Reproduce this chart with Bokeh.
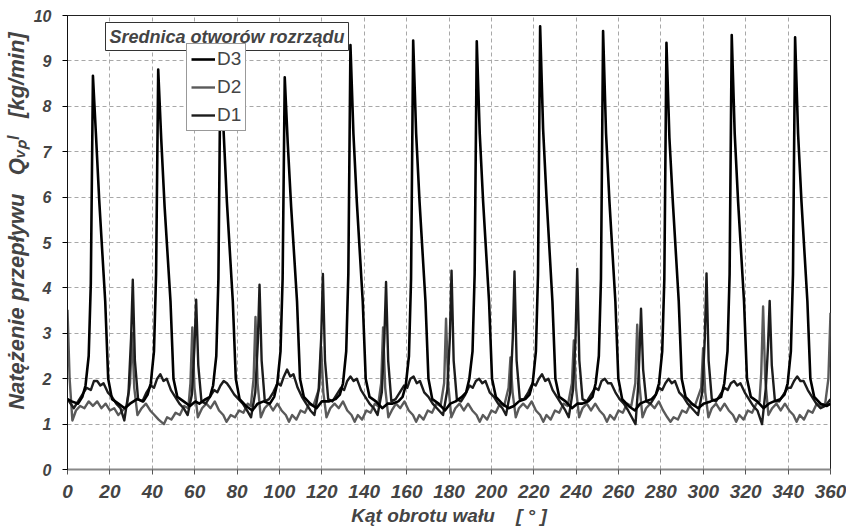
from bokeh.plotting import figure
from bokeh.models import Range1d, FixedTicker, Legend, LegendItem, Label
from bokeh.embed import file_html
from bokeh.resources import INLINE

# ---- data (angle in degrees, flow in kg/min) ----
d3_x = [0.0, 2.0, 5.0, 7.0, 8.5, 10.0, 11.0, 12.0, 13.4, 15.0, 17.8, 19.2, 21.0, 24.0, 27.0, 29.5,
        32.8, 35.8, 37.8, 39.3, 40.8, 41.8, 42.8, 44.2, 45.8, 48.6, 50.0, 51.8, 54.8, 57.8, 60.3,
        62.2, 65.2, 67.2, 68.7, 70.2, 71.2, 72.2, 73.6, 75.2, 78.0, 79.4, 81.2, 84.2, 87.2, 89.7,
        92.5, 95.5, 97.5, 99.0, 100.5, 101.5, 102.5, 103.9, 105.5, 108.3, 109.7, 111.5, 114.5, 117.5, 120.0,
        123.5, 126.5, 128.5, 130.0, 131.5, 132.5, 133.5, 134.9, 136.5, 139.3, 140.7, 142.5, 145.5, 148.5, 151.0,
        153.1, 156.1, 158.1, 159.6, 161.1, 162.1, 163.1, 164.5, 166.1, 168.9, 170.3, 172.1, 175.1, 178.1, 180.6,
        183.1, 186.1, 188.1, 189.6, 191.1, 192.1, 193.1, 194.5, 196.1, 198.9, 200.3, 202.1, 205.1, 208.1, 210.6,
        213.0, 216.0, 218.0, 219.5, 221.0, 222.0, 223.0, 224.4, 226.0, 228.8, 230.2, 232.0, 235.0, 238.0, 240.5,
        242.7, 245.7, 247.7, 249.2, 250.7, 251.7, 252.7, 254.1, 255.7, 258.5, 259.9, 261.7, 264.7, 267.7, 270.2,
        272.6, 275.6, 277.6, 279.1, 280.6, 281.6, 282.6, 284.0, 285.6, 288.4, 289.8, 291.6, 294.6, 297.6, 300.1,
        303.4, 306.4, 308.4, 309.9, 311.4, 312.4, 313.4, 314.8, 316.4, 319.2, 320.6, 322.4, 325.4, 328.4, 330.9,
        333.3, 336.3, 338.3, 339.8, 341.3, 342.3, 343.3, 344.7, 346.3, 349.1, 350.5, 352.3, 355.3, 358.3, 360.0]
d3_y = [1.55, 1.50, 1.45, 1.60, 1.85, 2.5, 4.1, 8.67, 7.4, 5.9, 3.7, 2.0, 1.55, 1.45, 1.35, 1.45,
        1.55, 1.50, 1.65, 1.90, 2.6, 4.3, 8.81, 7.3, 5.8, 3.7, 2.0, 1.60, 1.50, 1.40, 1.50,
        1.45, 1.55, 1.60, 1.85, 2.5, 4.2, 9.10, 7.5, 5.9, 3.7, 2.0, 1.55, 1.40, 1.30, 1.45,
        1.50, 1.45, 1.60, 1.90, 2.6, 4.2, 8.64, 7.2, 5.8, 3.7, 2.0, 1.60, 1.45, 1.35, 1.50,
        1.50, 1.55, 1.65, 1.90, 2.6, 4.3, 9.35, 7.4, 5.9, 3.7, 2.0, 1.60, 1.50, 1.35, 1.45,
        1.45, 1.50, 1.60, 1.85, 2.5, 4.2, 9.45, 7.4, 5.9, 3.7, 2.0, 1.55, 1.45, 1.30, 1.45,
        1.50, 1.60, 1.70, 2.00, 2.6, 4.3, 9.43, 7.4, 5.9, 3.7, 2.0, 1.60, 1.45, 1.35, 1.40,
        1.50, 1.55, 1.65, 1.90, 2.6, 4.3, 9.76, 7.5, 6.0, 3.7, 2.0, 1.60, 1.50, 1.35, 1.45,
        1.45, 1.50, 1.60, 1.90, 2.5, 4.2, 9.66, 7.4, 5.9, 3.7, 2.0, 1.55, 1.40, 1.30, 1.45,
        1.50, 1.55, 1.65, 1.90, 2.6, 4.2, 9.40, 7.3, 5.9, 3.7, 2.0, 1.60, 1.45, 1.35, 1.45,
        1.50, 1.55, 1.60, 1.90, 2.6, 4.3, 9.57, 7.4, 5.9, 3.7, 2.0, 1.60, 1.50, 1.35, 1.45,
        1.50, 1.55, 1.65, 1.90, 2.6, 4.3, 9.52, 7.4, 5.9, 3.7, 2.0, 1.60, 1.45, 1.40, 1.45]

d2_x = [0.0, 1.0, 2.3, 4.0, 6.0, 8.0, 10.0, 12.0, 14.0, 16.0, 18.0, 20.0, 22.0, 24.0, 26.0, 28.0, 29.5, 30.5,
        31.5, 33.0, 35.0, 37.0, 39.0, 41.0, 43.0, 45.5, 47.0, 49.0, 51.0, 53.0, 55.0, 57.0, 58.0, 58.9,
        59.9, 61.5, 63.5, 65.5, 67.5, 69.5, 71.5, 73.5, 75.0, 77.0, 79.0, 81.0, 83.0, 85.0, 86.5, 87.8, 88.7,
        89.7, 91.2, 93.0, 95.0, 97.0, 99.0, 101.0, 103.0, 104.5, 106.0, 108.0, 110.0, 112.0, 114.0, 116.0, 118.8, 119.7,
        120.7, 122.2, 124.0, 126.0, 128.0, 130.0, 132.0, 134.0, 135.5, 137.0, 139.0, 141.0, 143.0, 145.0, 146.5, 148.0, 148.9,
        149.9, 151.4, 153.0, 155.0, 157.0, 159.0, 161.0, 163.0, 164.5, 166.0, 168.0, 170.0, 172.0, 174.0, 176.0, 177.7, 178.6,
        179.6, 181.1, 183.0, 185.0, 187.0, 189.0, 191.0, 193.0, 194.5, 196.0, 198.0, 200.0, 202.0, 204.0, 206.0, 208.1, 209.0,
        210.0, 211.5, 213.0, 215.0, 217.0, 219.0, 221.0, 223.0, 224.5, 226.0, 228.0, 230.0, 232.0, 234.0, 236.0, 238.0, 238.9,
        239.9, 241.4, 243.0, 245.0, 247.0, 249.0, 251.0, 253.0, 254.5, 256.0, 258.0, 260.0, 262.0, 264.0, 266.0, 267.9, 268.8,
        269.8, 271.3, 273.0, 275.0, 277.0, 279.0, 281.0, 283.0, 284.5, 286.0, 288.0, 290.0, 292.0, 294.0, 296.0, 299.0, 299.9,
        300.9, 302.4, 304.0, 306.0, 308.0, 310.0, 312.0, 314.0, 315.5, 317.0, 319.0, 321.0, 323.0, 325.0, 326.5, 327.3, 328.2,
        329.2, 330.7, 332.5, 334.5, 336.5, 338.5, 340.5, 342.5, 344.0, 345.5, 347.5, 349.5, 351.5, 353.5, 355.5, 357.5, 359.0, 360.0]
d2_y = [3.52, 2.0, 1.08, 1.30, 1.40, 1.35, 1.50, 1.40, 1.50, 1.35, 1.45, 1.30, 1.35, 1.20, 1.30, 1.40, 1.9, 3.00,
        1.8, 1.20, 1.35, 1.45, 1.30, 1.20, 1.10, 1.00, 1.15, 1.10, 1.25, 1.20, 1.40, 1.35, 1.9, 3.13,
        1.8, 1.15, 1.35, 1.45, 1.35, 1.50, 1.30, 1.20, 1.05, 1.20, 1.15, 1.30, 1.25, 1.45, 1.40, 2.0, 3.36,
        1.9, 1.15, 1.35, 1.45, 1.30, 1.45, 1.30, 1.20, 1.05, 1.20, 1.10, 1.30, 1.25, 1.45, 1.40, 1.8, 2.70,
        1.7, 1.15, 1.35, 1.45, 1.35, 1.50, 1.30, 1.20, 1.05, 1.20, 1.10, 1.30, 1.25, 1.45, 1.40, 1.9, 3.13,
        1.8, 1.15, 1.30, 1.45, 1.35, 1.50, 1.30, 1.20, 1.05, 1.20, 1.10, 1.30, 1.25, 1.45, 1.40, 1.9, 3.32,
        1.9, 1.15, 1.35, 1.45, 1.30, 1.45, 1.30, 1.20, 1.05, 1.20, 1.10, 1.30, 1.25, 1.45, 1.40, 1.8, 2.47,
        1.7, 1.15, 1.35, 1.45, 1.35, 1.50, 1.30, 1.20, 1.05, 1.20, 1.10, 1.30, 1.25, 1.45, 1.40, 1.9, 2.84,
        1.8, 1.15, 1.35, 1.45, 1.30, 1.45, 1.30, 1.20, 1.05, 1.20, 1.10, 1.30, 1.25, 1.45, 1.40, 1.9, 3.19,
        1.9, 1.15, 1.35, 1.45, 1.35, 1.50, 1.30, 1.15, 1.05, 1.15, 1.10, 1.30, 1.25, 1.45, 1.40, 1.8, 2.67,
        1.7, 1.15, 1.35, 1.45, 1.30, 1.45, 1.30, 1.20, 1.05, 1.20, 1.10, 1.30, 1.25, 1.45, 1.50, 2.1, 3.59,
        2.0, 1.20, 1.35, 1.45, 1.30, 1.45, 1.30, 1.20, 1.05, 1.20, 1.10, 1.30, 1.25, 1.45, 1.40, 1.45, 2.0, 3.45]

d1_x = [0.0, 3.0, 5.0, 7.0, 9.0, 11.0, 12.5, 14.0, 15.5, 17.0, 19.0, 21.0, 23.0, 25.0,
        26.8, 28.8, 30.0, 30.8, 31.8, 33.3, 35.3, 37.3, 39.3, 40.8, 42.3, 43.8, 45.3, 46.8, 48.8, 50.8, 52.8, 54.8,
        56.7, 58.7, 59.9, 60.7, 61.7, 63.2, 65.2, 67.2, 69.2, 70.7, 72.2, 73.7, 75.2, 76.7, 78.7, 80.7, 82.7, 84.7,
        86.6, 88.6, 89.8, 90.6, 91.6, 93.1, 95.1, 97.1, 99.1, 100.6, 102.1, 103.6, 105.1, 106.6, 108.6, 110.6, 112.6, 114.6,
        116.5, 118.5, 119.7, 120.5, 121.5, 123.0, 125.0, 127.0, 129.0, 130.5, 132.0, 133.5, 135.0, 136.5, 138.5, 140.5, 142.5, 144.5,
        146.3, 148.3, 149.5, 150.3, 151.3, 152.8, 154.8, 156.8, 158.8, 160.3, 161.8, 163.3, 164.8, 166.3, 168.3, 170.3, 172.3, 174.3,
        177.2, 179.2, 180.4, 181.2, 182.2, 183.7, 185.7, 187.7, 189.7, 191.2, 192.7, 194.2, 195.7, 197.2, 199.2, 201.2, 203.2, 205.2,
        206.9, 208.9, 210.1, 210.9, 211.9, 213.4, 215.4, 217.4, 219.4, 220.9, 222.4, 223.9, 225.4, 226.9, 228.9, 230.9, 232.9, 234.9,
        236.5, 238.5, 239.7, 240.5, 241.5, 243.0, 245.0, 247.0, 249.0, 250.5, 252.0, 253.5, 255.0, 256.5, 258.5, 260.5, 262.5, 264.5,
        268.0, 269.2, 270.0, 270.6, 271.6, 273.1, 275.1, 277.1, 279.1, 280.6, 282.1, 283.6, 285.1, 286.6, 288.6, 290.6, 292.6, 294.6,
        297.5, 299.5, 300.7, 301.5, 302.5, 304.0, 306.0, 308.0, 310.0, 311.5, 313.0, 314.5, 316.0, 317.5, 319.5, 321.5, 323.5, 325.5,
        327.7, 329.5, 330.5, 331.3, 332.3, 333.8, 335.8, 337.8, 339.8, 341.3, 342.8, 344.3, 345.8, 347.3, 349.3, 351.3, 353.3, 355.3, 357.5, 360.0]
d1_y = [1.55, 1.35, 1.50, 1.65, 1.80, 1.75, 1.95, 1.95, 1.85, 1.90, 1.70, 1.60, 1.45, 1.35,
        1.08, 1.70, 2.9, 4.18, 2.4, 1.55, 1.50, 1.70, 1.85, 1.80, 2.00, 2.10, 1.95, 2.00, 1.75, 1.60, 1.45, 1.35,
        1.20, 1.65, 2.7, 3.74, 2.3, 1.50, 1.45, 1.60, 1.75, 1.70, 1.85, 1.95, 1.90, 1.80, 1.65, 1.55, 1.45, 1.30,
        1.15, 1.70, 2.8, 4.07, 2.4, 1.50, 1.55, 1.70, 1.90, 1.85, 2.05, 2.20, 2.05, 2.10, 1.80, 1.60, 1.45, 1.30,
        1.20, 1.75, 2.9, 4.31, 2.4, 1.55, 1.50, 1.65, 1.80, 1.75, 1.95, 2.05, 1.95, 2.00, 1.75, 1.60, 1.45, 1.35,
        1.20, 1.70, 2.9, 4.13, 2.4, 1.50, 1.55, 1.70, 1.85, 1.80, 2.00, 2.05, 1.90, 1.95, 1.70, 1.60, 1.45, 1.35,
        1.20, 1.75, 2.9, 4.38, 2.4, 1.55, 1.50, 1.65, 1.85, 1.80, 1.95, 2.00, 1.90, 1.95, 1.70, 1.60, 1.45, 1.35,
        1.20, 1.70, 2.9, 4.36, 2.4, 1.55, 1.55, 1.70, 1.90, 1.85, 2.00, 2.10, 1.95, 2.00, 1.75, 1.60, 1.45, 1.30,
        1.15, 1.75, 2.9, 4.42, 2.4, 1.55, 1.50, 1.65, 1.80, 1.75, 1.95, 2.00, 1.90, 1.90, 1.70, 1.55, 1.45, 1.30,
        1.00, 1.80, 2.7, 3.54, 2.2, 1.50, 1.45, 1.60, 1.80, 1.75, 1.90, 2.00, 1.90, 1.95, 1.70, 1.60, 1.45, 1.35,
        1.20, 1.70, 2.9, 4.32, 2.4, 1.55, 1.50, 1.65, 1.80, 1.75, 1.90, 1.95, 1.85, 1.90, 1.70, 1.55, 1.40, 1.30,
        1.00, 1.80, 2.7, 3.71, 2.3, 1.50, 1.50, 1.65, 1.80, 1.80, 1.95, 2.05, 1.95, 1.95, 1.75, 1.60, 1.45, 1.35, 1.40, 1.55]

x_ticks = [0, 20, 40, 60, 80, 100, 120, 140, 160, 180, 200, 220, 240, 260, 280, 300, 320, 340, 360]
y_ticks = [0, 1, 2, 3, 4, 5, 6, 7, 8, 9, 10]
series_names = ["D3", "D2", "D1"]
series_colors = ["#000000", "#5a5a5a", "#1c1c1c"]

NB = "\u00a0"

p = figure(width=846, height=531, x_range=Range1d(0, 360), y_range=Range1d(0, 10),
           output_backend="svg", toolbar_location=None,
           min_border_left=67, min_border_right=16, min_border_top=15, min_border_bottom=62)

p.background_fill_color = "white"
p.border_fill_color = "white"
p.outline_line_color = "#222222"
p.outline_line_width = 1

for ax in (p.xaxis, p.yaxis):
    ax.minor_tick_line_color = None
    ax.major_tick_in = 0
    ax.major_tick_out = 5
    ax.major_label_text_font_style = "bold italic"
    ax.axis_label_text_font_style = "bold italic"

p.xaxis.ticker = FixedTicker(ticks=x_ticks)
p.yaxis.ticker = FixedTicker(ticks=y_ticks)
p.xaxis.major_label_text_font = "Liberation Sans Narrow, Liberation Sans"
p.xaxis.major_label_text_font_size = "19px"
p.xaxis.major_label_standoff = 10
p.xaxis.axis_line_color = "#888888"
p.xaxis.axis_line_width = 2
p.xaxis.major_tick_line_color = "#555555"
p.xaxis.axis_label = "Kąt obrotu wału" + NB * 4 + "[" + NB + "°" + NB + "]"
p.xaxis.axis_label_text_font = "Liberation Sans Narrow, Liberation Sans"
p.xaxis.axis_label_text_font_size = "19px"
p.xaxis.axis_label_standoff = 4

p.yaxis.major_label_text_font = "Liberation Sans"
p.yaxis.major_label_text_font_size = "16px"
p.yaxis.major_label_standoff = 11
p.yaxis.axis_line_color = "#111111"
p.yaxis.axis_label = NB * 7 + "Natężenie przepływu" + NB * 3 + "Qᵥₚˡ" + NB * 3 + "[kg/min]"
p.yaxis.axis_label_text_font = "Liberation Sans"
p.yaxis.axis_label_text_font_size = "22px"
p.yaxis.axis_label_standoff = 2

p.grid.grid_line_color = "#a8a8a8"
p.grid.grid_line_dash = "4 3"
p.grid.grid_line_width = 1
p.xgrid.ticker = FixedTicker(ticks=x_ticks)
p.ygrid.ticker = FixedTicker(ticks=y_ticks)

r2 = p.line(d2_x, d2_y, line_color=series_colors[1], line_width=2.4, line_join="round")
r1 = p.line(d1_x, d1_y, line_color=series_colors[2], line_width=2.4, line_join="round")
r3 = p.line(d3_x, d3_y, line_color=series_colors[0], line_width=2.6, line_join="round")

legend = Legend(items=[LegendItem(label=series_names[0], renderers=[r3]),
                       LegendItem(label=series_names[1], renderers=[r2]),
                       LegendItem(label=series_names[2], renderers=[r1])],
                location=(119, 338), orientation="vertical")
legend.label_text_font = "Liberation Sans"
legend.label_text_font_size = "19px"
legend.label_height = 20
legend.glyph_height = 20
legend.glyph_width = 24
legend.label_standoff = 2
legend.spacing = 6
legend.padding = 4
legend.margin = 0
legend.border_line_color = "#333333"
legend.border_line_width = 1
legend.background_fill_alpha = 1.0
p.add_layout(legend)

title_box = Label(x=38, y=419, x_units="screen", y_units="screen",
                  text="Srednica otworów rozrządu", text_font="Liberation Sans",
                  text_font_style="bold italic", text_font_size="18px",
                  text_align="left", text_baseline="bottom", level="overlay",
                  background_fill_color="white", background_fill_alpha=1.0,
                  border_line_color="#333333", border_line_width=1, padding=4)
p.add_layout(title_box)

open("out.html", "w").write(file_html(p, INLINE))
